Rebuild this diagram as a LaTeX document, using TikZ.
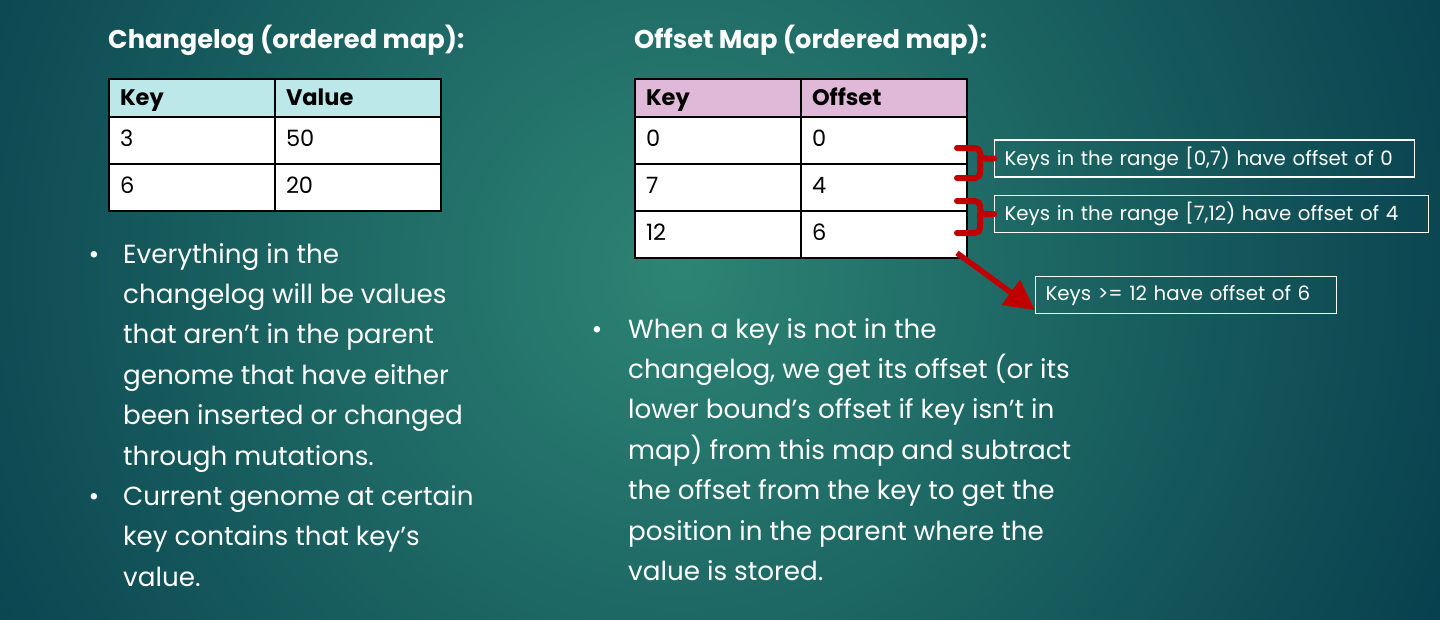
\documentclass[tikz,border=0pt]{standalone}
\usepackage{fontspec}
\setmainfont{Poppins}
\usetikzlibrary{positioning,arrows.meta}

\definecolor{bgin}{HTML}{2D8474}
\definecolor{bgout}{HTML}{04394A}
\definecolor{clhead}{HTML}{BDE8EA}
\definecolor{omhead}{HTML}{E0B9D8}
\definecolor{bracered}{HTML}{C00000}

\tikzstyle{cell} = [rectangle, draw=black, line width=1.2pt, fill=white, outer sep=0pt,
    inner xsep=11pt, text width=144pt, align=left, minimum height=47pt,
    text height=20pt, text depth=9pt, font=\fontsize{22.5}{27}\selectfont]
\tikzstyle{headcell} = [cell, minimum height=38pt, text depth=5pt, font=\fontsize{22.5}{27}\selectfont\bfseries]
\tikzstyle{heading} = [text=white, anchor=base west, inner sep=0pt, font=\fontsize{25.7}{30}\selectfont\bfseries]
\tikzstyle{itemtext} = [text=white, anchor=north west, inner sep=0pt, align=left, font=\fontsize{26.2}{40.4}\selectfont]
\tikzstyle{itemdot} = [text=white, anchor=base, inner sep=0pt, font=\fontsize{26.2}{40.4}\selectfont]
\tikzstyle{keybox} = [draw=white, line width=1.2pt, text=white, inner xsep=10pt, minimum height=37pt,
    align=left, anchor=west, font=\fontsize{19.8}{23}\selectfont]
\tikzstyle{brace} = [draw=bracered, line width=6pt, line cap=round, rounded corners=5pt]
\tikzstyle{line} = [draw=bracered, line width=5.5pt, -{Triangle[length=30pt,width=30pt]}]

\begin{document}
\begin{tikzpicture}[x=1pt, y=-1pt]
    \useasboundingbox (0,0) rectangle (1440,619);
    \begin{scope}
        \clip (0,0) rectangle (1440,619);
        \shade [inner color=bgin, outer color=bgout] (680,270) circle (920);
    \end{scope}

    \node [heading] (cltitle) at (108,48) {Changelog (ordered map):};
    \node [heading] (omtitle) at (634,48) {Offset Map (ordered map):};

    \node [headcell, fill=clhead, anchor=north west] (ckey) at (109,79) {Key};
    \node [headcell, fill=clhead, right=0pt of ckey] (cval) {Value};
    \node [cell, below=0pt of ckey] (ck1) {3};
    \node [cell, below=0pt of cval] (cv1) {50};
    \node [cell, below=0pt of ck1] (ck2) {6};
    \node [cell, below=0pt of cv1] (cv2) {20};

    \node [headcell, fill=omhead, anchor=north west] (okey) at (635,79) {Key};
    \node [headcell, fill=omhead, right=0pt of okey] (ooff) {Offset};
    \node [cell, below=0pt of okey] (ok1) {0};
    \node [cell, below=0pt of ooff] (oo1) {0};
    \node [cell, below=0pt of ok1] (ok2) {7};
    \node [cell, below=0pt of oo1] (oo2) {4};
    \node [cell, below=0pt of ok2] (ok3) {12};
    \node [cell, below=0pt of oo2] (oo3) {6};

    \node [keybox, text width=400pt] (range1) at (994,158.5) {Keys in the range [0,7) have offset of 0};
    \node [keybox, text width=414pt] (range2) at (994,214) {Keys in the range [7,12) have offset of 4};
    \node [keybox, text width=281pt] (range3) at (1035,295) {Keys >= 12 have offset of 6};

    \path [brace] (range1.west) -- ++(-14,0) coordinate (tip1) |- ++(-23,-10.5);
    \path [brace] (tip1) |- ++(-23,19.5);
    \path [brace] (range2.west) -- ++(-14,0) coordinate (tip2) |- ++(-23,-13);
    \path [brace] (tip2) |- ++(-23,19);
    \coordinate (astart) at (957,253);
    \path [line] (astart) -- ([yshift=4pt]range3.south west);

    \node [itemdot] (dot1) at (94,263) {•};
    \node [itemtext] (item1) at (123,234.7) {\strut Everything in the\\changelog will be values\\that aren’t in the parent\\genome that have either\\been inserted or changed\\through mutations.};
    \node [itemdot] (dot2) at (94,505.4) {•};
    \node [itemtext] (item2) at (123,477.1) {\strut Current genome at certain\\key contains that key’s\\value.};

    \node [itemdot] (dot3) at (597,338) {•};
    \node [itemtext] (item3) at (628,309.7) {\strut When a key is not in the\\changelog, we get its offset (or its\\lower bound’s offset if key isn’t in\\map) from this map and subtract\\the offset from the key to get the\\position in the parent where the\\value is stored.};
\end{tikzpicture}
\end{document}
